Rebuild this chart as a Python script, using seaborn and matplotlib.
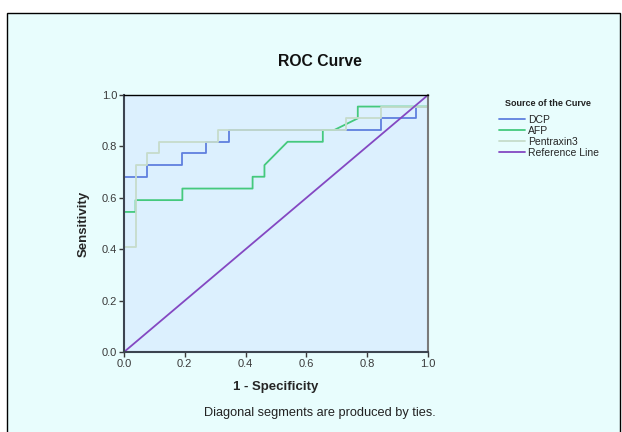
import numpy as np
import pandas as pd
import matplotlib
matplotlib.use("Agg")
import matplotlib.pyplot as plt
from matplotlib.patches import Rectangle
import seaborn as sns

# ROC vertices (1 - specificity, sensitivity)
dcp_fpr = [0, 0, 0.077, 0.077, 0.192, 0.192, 0.269, 0.269, 0.346, 0.346, 0.846, 0.846, 0.962, 0.962, 1, 1]
dcp_tpr = [0, 0.682, 0.682, 0.727, 0.727, 0.773, 0.773, 0.818, 0.818, 0.864, 0.864, 0.909, 0.909, 0.955, 0.955, 1]

afp_fpr = [0, 0, 0.038, 0.038, 0.192, 0.192, 0.423, 0.423, 0.462, 0.462, 0.538, 0.654, 0.654, 0.692, 0.769, 0.769, 1, 1]
afp_tpr = [0, 0.545, 0.545, 0.591, 0.591, 0.636, 0.636, 0.682, 0.682, 0.727, 0.818, 0.818, 0.864, 0.864, 0.909, 0.955, 0.955, 1]

ptx_fpr = [0, 0, 0.038, 0.038, 0.077, 0.077, 0.115, 0.115, 0.308, 0.308, 0.731, 0.731, 0.846, 0.846, 1, 1]
ptx_tpr = [0, 0.409, 0.409, 0.727, 0.727, 0.773, 0.773, 0.818, 0.818, 0.864, 0.864, 0.909, 0.909, 0.955, 0.955, 1]

ref_fpr = [0, 1]
ref_tpr = [0, 1]

curve_names = ["DCP", "AFP", "Pentraxin3", "Reference Line"]
curve_colors = ["#5f80de", "#45c97d", "#c6dccb", "#8448c2"]
ticks = [0.0, 0.2, 0.4, 0.6, 0.8, 1.0]

frames = []
for name, fx, ty in zip(curve_names,
                        [dcp_fpr, afp_fpr, ptx_fpr, ref_fpr],
                        [dcp_tpr, afp_tpr, ptx_tpr, ref_tpr]):
    d = pd.DataFrame({"fpr": fx, "tpr": ty})
    d["curve"] = name
    frames.append(d)
df = pd.concat(frames, ignore_index=True)

sns.set_style("white")
plt.rcParams["font.family"] = ["Liberation Sans", "DejaVu Sans"]

fig = plt.figure(figsize=(6.22, 4.32), dpi=100)
fig.patch.set_facecolor("white")
panel = Rectangle((7 / 622, -0.05), 613 / 622, 1.05 - 13 / 432,
                  transform=fig.transFigure, facecolor="#e8fdfd",
                  edgecolor="black", linewidth=1.0, zorder=-5)
fig.patches.append(panel)

ax = fig.add_axes([124 / 622, 1 - 352 / 432, 304 / 622, 257 / 432])
ax.set_facecolor("#dcf0fe")

for name, col in zip(curve_names, curve_colors):
    sub = df[df["curve"] == name]
    sns.lineplot(data=sub, x="fpr", y="tpr", sort=False, estimator=None,
                 color=col, linewidth=1.3, ax=ax, label=name)

ax.set_xlim(0, 1)
ax.set_ylim(0, 1)
ax.set_xticks(ticks)
ax.set_yticks(ticks)
ax.set_xticklabels([f"{t:.1f}" for t in ticks], fontsize=8)
ax.set_yticklabels([f"{t:.1f}" for t in ticks], fontsize=8)
ax.tick_params(axis="both", direction="out", length=3.5, width=1, pad=1.5,
               colors="#3a3a3a", left=True, bottom=True)
ax.set_xlabel("1 - Specificity", fontsize=9.5, fontweight="bold", labelpad=9)
ax.set_ylabel("Sensitivity", fontsize=9.5, fontweight="bold", labelpad=9)

fig.text(320 / 622, 1 - 62 / 432, "ROC Curve", ha="center", va="center",
         fontsize=11.3, fontweight="bold", color="#111111")

for side in ["left", "bottom"]:
    ax.spines[side].set_color("#3c4450")
    ax.spines[side].set_linewidth(1.5)
ax.spines["top"].set_color("black")
ax.spines["top"].set_linewidth(1.0)
ax.spines["right"].set_color("#7a7a7a")
ax.spines["right"].set_linewidth(1.5)

fig.text(548 / 622, 1 - 104 / 432, "Source of the Curve", ha="center",
         va="center", fontsize=6.5, fontweight="bold", color="#222222")
leg = ax.legend(loc="upper left", bbox_to_anchor=(499 / 622, 1 - 115 / 432),
                bbox_transform=fig.transFigure, frameon=False, fontsize=7.5,
                handlelength=2.5, handletextpad=0.3,
                labelspacing=0.1, borderaxespad=0, borderpad=0)

fig.text(320 / 622, 1 - 413 / 432, "Diagonal segments are produced by ties.",
         ha="center", va="center", fontsize=9.2, color="#222222")

fig.savefig("out.png", dpi=100)
